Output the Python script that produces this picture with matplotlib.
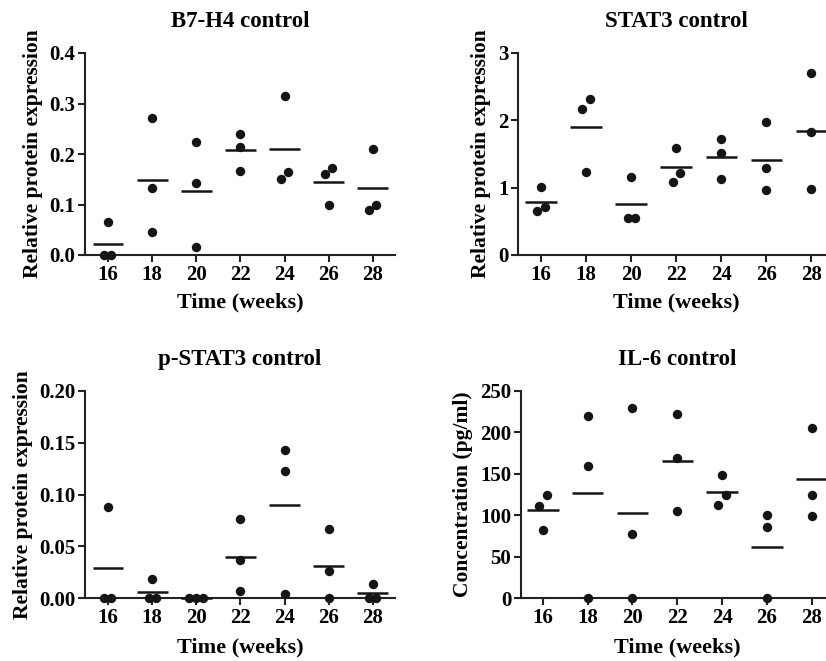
import numpy as np
import matplotlib
matplotlib.use('Agg')
import matplotlib.pyplot as plt

plt.rcParams['font.family'] = ['Liberation Serif', 'DejaVu Serif']
plt.rcParams['font.weight'] = 'bold'
plt.rcParams['axes.labelweight'] = 'bold'
plt.rcParams['axes.titleweight'] = 'bold'

weeks = ['16', '18', '20', '22', '24', '26', '28']

b7h4 = [[0.066, 0.0, 0.0], [0.271, 0.132, 0.045], [0.223, 0.142, 0.015],
        [0.240, 0.214, 0.167], [0.314, 0.151, 0.164], [0.173, 0.161, 0.100],
        [0.210, 0.089, 0.100]]
stat3 = [[1.006, 0.66, 0.71], [2.315, 2.17, 1.24], [1.155, 0.555, 0.555],
         [1.587, 1.225, 1.09], [1.72, 1.51, 1.13], [1.98, 1.29, 0.97],
         [2.71, 1.82, 0.98]]
pstat3 = [[0.0876, 0.0, 0.0], [0.0186, 0.0, 0.0], [0.0, 0.0, 0.0],
          [0.0764, 0.0363, 0.0064], [0.1432, 0.123, 0.0035], [0.0668, 0.026, 0.0],
          [0.0132, 0.0, 0.0]]
il6 = [[123.8, 110.9, 82.7], [219.8, 159.3, 0.0], [229.8, 77.8, 0.0],
       [222.6, 168.5, 105.6], [148.8, 123.8, 112.9], [100.4, 85.9, 0.0],
       [204.8, 125.0, 99.6]]

W, H = 826, 661
fig = plt.figure(figsize=(W / 100, H / 100), dpi=100)


def px_axes(left, top, right, bottom):
    return fig.add_axes([left / W, 1 - bottom / H, (right - left) / W, (bottom - top) / H])


def spread(vals, span):
    # shift overlapping dots sideways like a column scatter
    vals = np.asarray(vals)
    order = np.argsort(vals)
    offs = np.zeros(len(vals))
    clusters = [[order[0]]]
    for i in order[1:]:
        if abs(vals[i] - vals[clusters[-1][-1]]) < 0.055 * span:
            clusters[-1].append(i)
        else:
            clusters.append([i])
    for c in clusters:
        n = len(c)
        if n > 1:
            pos = (np.arange(n) - (n - 1) / 2) * 0.16
            for k, idx in enumerate(c):
                offs[idx] = pos[k]
    return offs


def panel(rect, data, title, ylabel, ylim, yticks, yfmt, xlim, xlab_y, ylab_x):
    ax = px_axes(*rect)
    span = ylim[1] - ylim[0]
    for i, vals in enumerate(data):
        offs = spread(vals, span)
        ax.scatter(i + offs, vals, s=46, color='#151515', zorder=4, clip_on=False, linewidths=0)
        m = np.mean(vals)
        ax.plot([i - 0.35, i + 0.35], [m, m], color='#151515', lw=1.8, zorder=3,
                solid_capstyle='butt', clip_on=False)
    ax.set_xlim(*xlim)
    ax.set_ylim(*ylim)
    ax.set_xticks(range(len(weeks)))
    ax.set_xticklabels(weeks)
    ax.set_yticks(yticks)
    ax.set_yticklabels([yfmt.format(t) for t in yticks])
    for s in ['top', 'right']:
        ax.spines[s].set_visible(False)
    for s in ['left', 'bottom']:
        ax.spines[s].set_linewidth(1.5)
        ax.spines[s].set_color('#222222')
    ax.tick_params(length=5, width=1.5, labelsize=15, color='#222222', pad=2)
    ax.set_title(title, fontsize=16.5, pad=19)
    ax.set_xlabel('Time (weeks)', fontsize=16, va='center')
    ax.set_ylabel(ylabel, fontsize=15.5, va='center')
    ax.xaxis.set_label_coords(0.5, xlab_y)
    ax.yaxis.set_label_coords(ylab_x, 0.5)
    return ax


panel((85, 53, 395, 255), b7h4, 'B7-H4 control', 'Relative protein expression',
      (0, 0.4), [0.0, 0.1, 0.2, 0.3, 0.4], '{:.1f}', (-0.52, 6.5), -0.233, -0.168)
panel((518, 53, 834, 255), stat3, 'STAT3 control', 'Relative protein expression',
      (0, 3), [0, 1, 2, 3], '{:.0f}', (-0.51, 6.5), -0.233, -0.117)
panel((85, 391, 395, 598), pstat3, 'p-STAT3 control', 'Relative protein expression',
      (0, 0.2), [0.0, 0.05, 0.10, 0.15, 0.20], '{:.2f}', (-0.52, 6.5), -0.237, -0.2)
panel((521, 391, 834, 598), il6, 'IL-6 control', 'Concentration (pg/ml)',
      (0, 250), [0, 50, 100, 150, 200, 250], '{:.0f}', (-0.49, 6.5), -0.237, -0.185)

fig.savefig('out.png', dpi=100)
